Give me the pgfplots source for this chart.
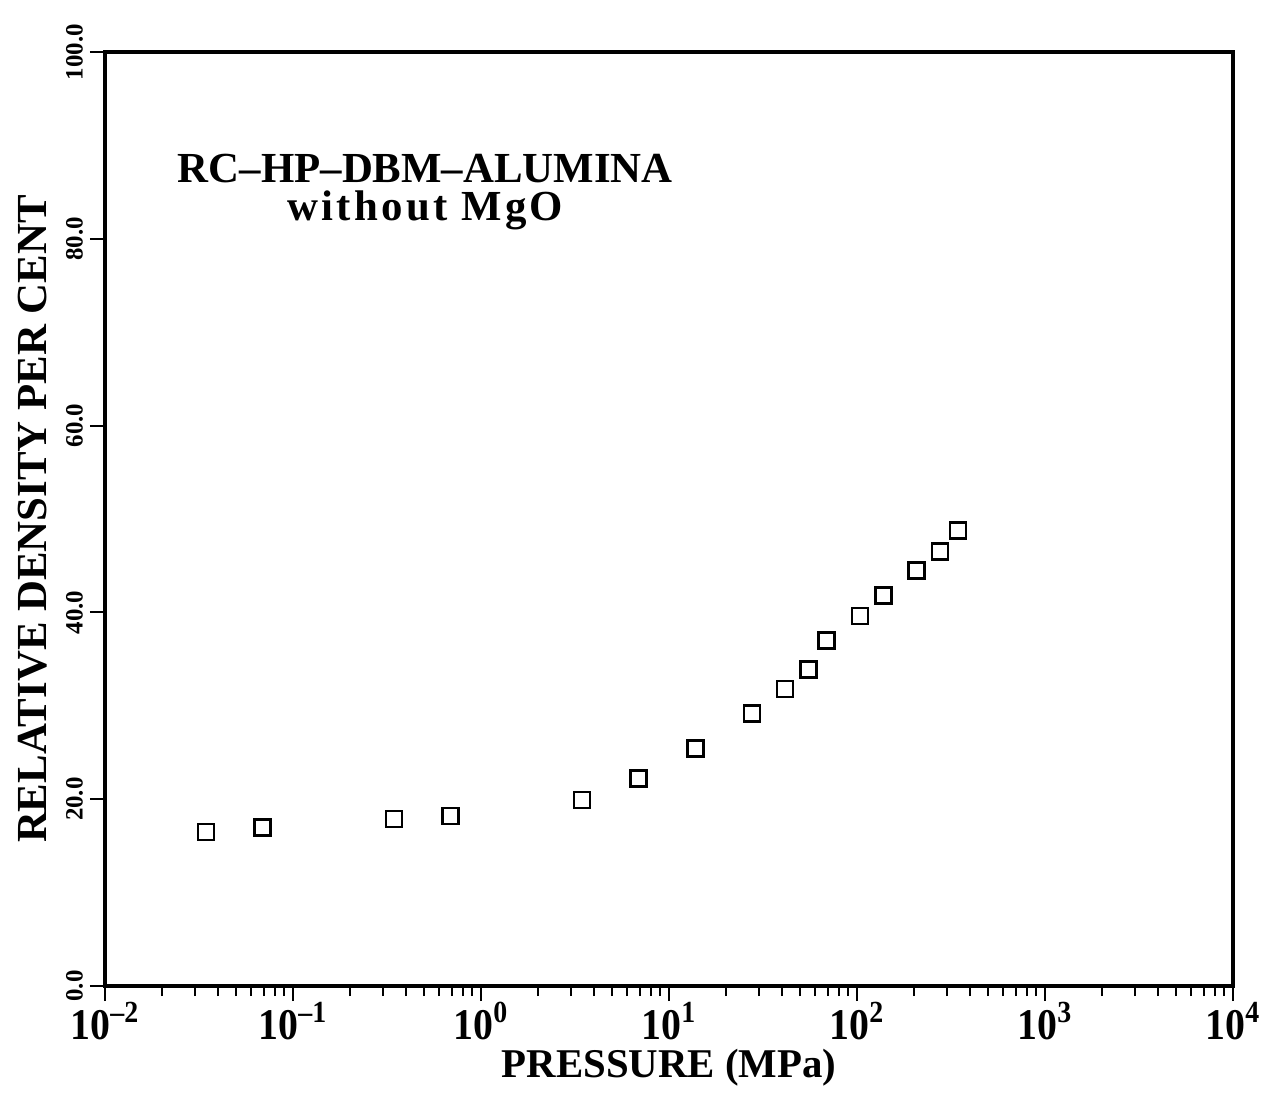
\documentclass[border=0pt]{standalone}
\usepackage{pgfplots}
\pgfplotsset{compat=1.18}
\usepackage{fontspec}
\setmainfont{Liberation Serif}
\begin{document}
\begin{tikzpicture}
\begin{axis}[
  scale only axis, width=564bp, height=467bp,
  xmode=log, xmin=0.01, xmax=10000, ymin=0, ymax=100,
  axis line style={line width=2bp},
  xtick={0.01,0.1,1,10,100,1000,10000},
  xticklabels={10\textsuperscript{--2},10\textsuperscript{--1},10\textsuperscript{0},10\textsuperscript{1},10\textsuperscript{2},10\textsuperscript{3},10\textsuperscript{4}},
  ytick={0,20,40,60,80,100},
  yticklabels={0.0,20.0,40.0,60.0,80.0,100.0},
  tick align=outside, xtick pos=bottom, ytick pos=left,
  major tick length=7.5bp, minor tick length=5bp,
  tick style={black, line width=1bp},
  yticklabel style={rotate=90, anchor=south, font=\bfseries\fontsize{12.5}{12.5}\selectfont},
  xticklabel style={anchor=north, inner sep=1pt, yscale=1.1, yshift=0.5bp, font=\bfseries\fontsize{20}{20}\selectfont},
  xlabel={PRESSURE (MPa)},
  ylabel={RELATIVE DENSITY PER CENT},
  x label style={at={(axis description cs:0.5,0)}, anchor=base, inner sep=1pt, yshift=-45.5bp, font=\bfseries\fontsize{20.5}{20.5}\selectfont},
  y label style={at={(axis description cs:0,0.5)}, anchor=center, yshift=36bp, font=\bfseries\fontsize{21.5}{21.5}\selectfont},
  clip=false,
]
\addplot[only marks, mark=square, mark size=4bp, mark options={line width=1.3bp, black}] coordinates {
 (0.0345,16.5) (0.069,17.0) (0.345,17.9) (0.69,18.2) (3.45,19.9) (6.9,22.2)
 (13.8,25.4) (27.6,29.2) (41.4,31.8) (55.2,33.9) (69,37.0) (103.5,39.6)
 (138,41.8) (207,44.5) (276,46.5) (345,48.8)
};
\node[align=center, font=\bfseries\fontsize{21.5}{19.5}\selectfont] at (rel axis cs:0.284,0.85) {RC--HP--DBM--ALUMINA\\\addfontfeature{LetterSpace=7.5}without MgO};
\end{axis}
\useasboundingbox ([shift={(-52.5bp,-54bp)}]current axis.south west) rectangle ([shift={(19.5bp,26bp)}]current axis.north east);
\end{tikzpicture}
\end{document}
